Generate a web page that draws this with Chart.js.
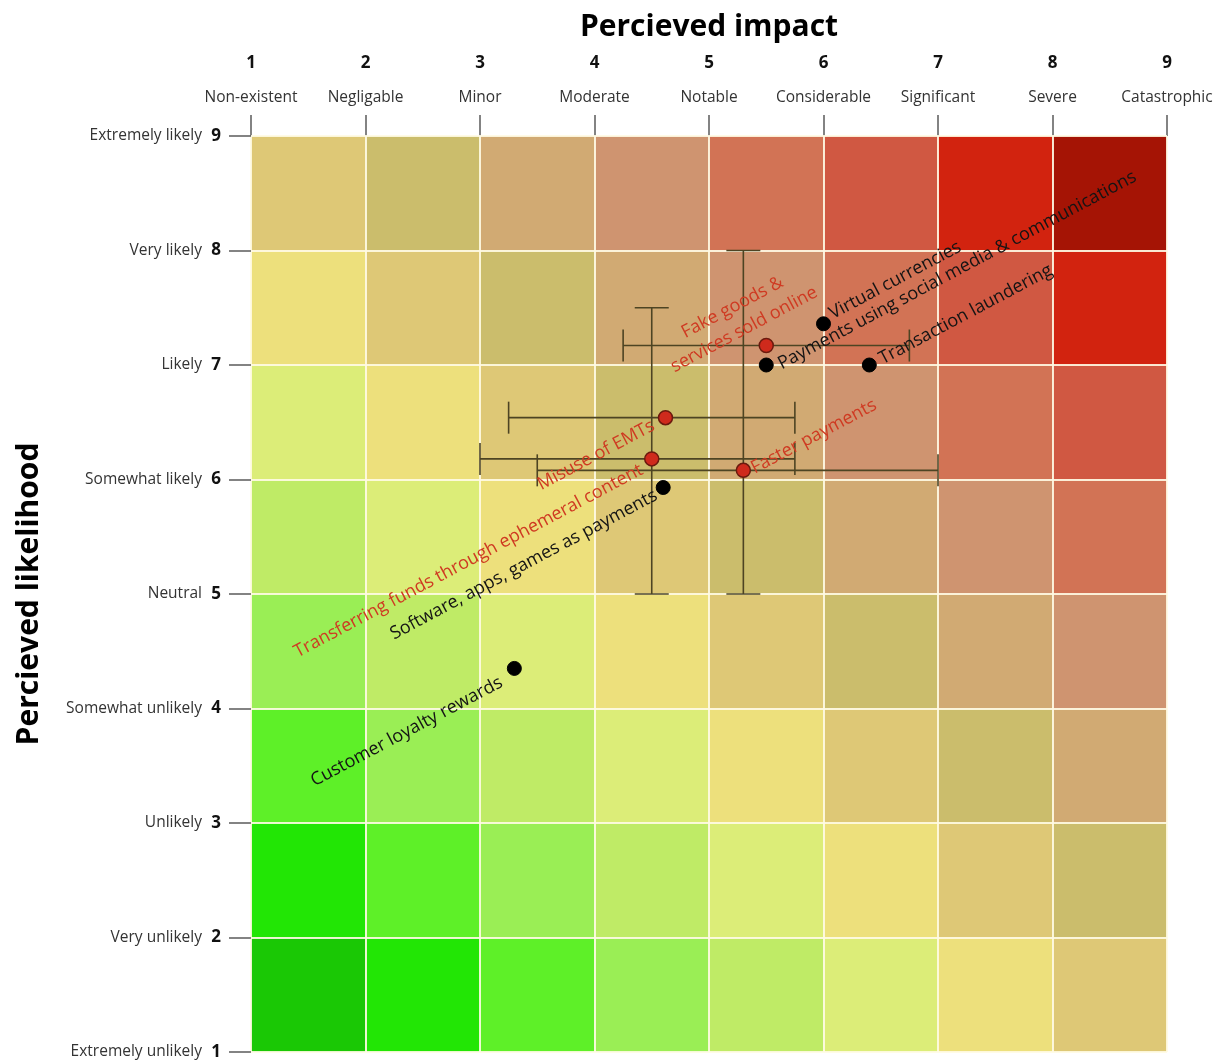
<!DOCTYPE html>
<html>
<head>
<meta charset="utf-8">
<title>Percieved impact vs. percieved likelihood</title>
<script src="https://cdn.jsdelivr.net/npm/chart.js@4.4.1/dist/chart.umd.min.js"></script>
<style>
  html, body { margin: 0; padding: 0; background: #ffffff; }
  #wrap { width: 1223px; height: 1063px; }
</style>
</head>
<body>
<div id="wrap"><canvas id="riskChart" width="1223" height="1063"></canvas></div>
<script>
// ---- Axis vocabulary ----
const impactNames = ['Non-existent', 'Negligable', 'Minor', 'Moderate', 'Notable',
  'Considerable', 'Significant', 'Severe', 'Catastrophic'];
const likelihoodNames = ['Extremely unlikely', 'Very unlikely', 'Unlikely', 'Somewhat unlikely',
  'Neutral', 'Somewhat likely', 'Likely', 'Very likely', 'Extremely likely'];

// ---- Threats scored as a single point (black) ----
const pointNames = ['Virtual currencies', 'Payments using social media & communications',
  'Transaction laundering', 'Software, apps, games as payments', 'Customer loyalty rewards'];
const pointImpact = [6.0, 5.5, 6.4, 4.6, 3.3];
const pointLikelihood = [7.36, 7.0, 7.0, 5.93, 4.35];

// ---- Threats scored with a spread of opinion (red, with ranges) ----
const rangeNames = [['Fake goods &', 'services sold online'], ['Misuse of EMTs'],
  ['Transferring funds through ephemeral content'], ['Faster payments']];
const rangeImpact = [5.5, 4.62, 4.5, 5.3];
const rangeLikelihood = [7.17, 6.54, 6.18, 6.08];
const rangeImpactLow = [4.25, 3.25, 3.0, 3.5];
const rangeImpactHigh = [6.75, 5.75, 5.75, 7.0];
const rangeLikelihoodLow = [null, null, 5.0, 5.0];
const rangeLikelihoodHigh = [null, null, 7.5, 8.0];

// ---- Styling ----
const FONT = "'Open Sans', 'Noto Sans', sans-serif";
Chart.defaults.font.family = FONT;

// risk colour by level (0 = safest corner, 14 = worst corner)
const heatPalette = ['#1ac805', '#22e605', '#5ef028', '#9aee55', '#bfeb66', '#dced78', '#ede07c',
  '#dec876', '#cbbd6c', '#d1aa73', '#cf9470', '#d27355', '#d05842', '#d2230f', '#a51405'];

// label placement relative to each marker (pixels), text runs along the diagonal
const LABEL_ANGLE = -28 * Math.PI / 180;
const LABEL_FONT_SIZE = 18;
const LABEL_LINE = 25;
const pointLabelStyle = [
  { dx: 7, dy: -9, align: 'left' },
  { dx: 13, dy: 0, align: 'left' },
  { dx: 11, dy: -5, align: 'left' },
  { dx: -7, dy: 7, align: 'right' },
  { dx: -13, dy: 13, align: 'right' }
];
const rangeLabelStyle = [
  { dx: -22, dy: -16, align: 'center' },
  { dx: -12, dy: 7, align: 'right' },
  { dx: -10, dy: 10, align: 'right' },
  { dx: 9, dy: -1, align: 'left' }
];

const heatCells = {
  id: 'heatCells',
  beforeDraw(chart) {
    const { ctx, scales: { x, y } } = chart;
    ctx.save();
    for (let i = 0; i < 8; i++) {
      for (let j = 0; j < 8; j++) {
        const left = x.getPixelForValue(1 + i);
        const right = x.getPixelForValue(2 + i);
        const top = y.getPixelForValue(2 + j);
        const bottom = y.getPixelForValue(1 + j);
        ctx.fillStyle = heatPalette[i + j];
        ctx.fillRect(left, top, right - left, bottom - top);
      }
    }
    ctx.restore();
  }
};

const errorBars = {
  id: 'errorBars',
  beforeDatasetsDraw(chart) {
    const { ctx, scales: { x, y } } = chart;
    const cap = 16;
    ctx.save();
    ctx.strokeStyle = '#4d4423';
    ctx.lineWidth = 1.6;
    const seg = (x0, y0, x1, y1) => { ctx.beginPath(); ctx.moveTo(x0, y0); ctx.lineTo(x1, y1); ctx.stroke(); };
    rangeImpact.forEach((v, k) => {
      const px = x.getPixelForValue(v);
      const py = y.getPixelForValue(rangeLikelihood[k]);
      const xa = x.getPixelForValue(rangeImpactLow[k]);
      const xb = x.getPixelForValue(rangeImpactHigh[k]);
      seg(xa, py, xb, py);
      seg(xa, py - cap, xa, py + cap);
      seg(xb, py - cap, xb, py + cap);
      if (rangeLikelihoodLow[k] !== null) {
        const ya = y.getPixelForValue(rangeLikelihoodLow[k]);
        const yb = y.getPixelForValue(rangeLikelihoodHigh[k]);
        seg(px, ya, px, yb);
        seg(px - cap - 1, ya, px + cap + 1, ya);
        seg(px - cap - 1, yb, px + cap + 1, yb);
      }
    });
    ctx.restore();
  }
};

const markerLabels = {
  id: 'markerLabels',
  afterDatasetsDraw(chart) {
    const { ctx, scales: { x, y } } = chart;
    ctx.save();
    ctx.font = LABEL_FONT_SIZE + 'px ' + FONT;
    ctx.textBaseline = 'middle';
    const put = (lines, vx, vy, st, color) => {
      const ax = x.getPixelForValue(vx) + st.dx;
      const ay = y.getPixelForValue(vy) + st.dy;
      ctx.save();
      ctx.translate(ax, ay);
      ctx.rotate(LABEL_ANGLE);
      ctx.textAlign = st.align;
      ctx.fillStyle = color;
      const n = lines.length;
      lines.forEach((t, i) => ctx.fillText(t, 0, (i - (n - 1)) * LABEL_LINE));
      ctx.restore();
    };
    pointNames.forEach((t, k) => put([t], pointImpact[k], pointLikelihood[k], pointLabelStyle[k], '#141414'));
    rangeNames.forEach((t, k) => put(t, rangeImpact[k], rangeLikelihood[k], rangeLabelStyle[k], '#cf3a22'));
    ctx.restore();
  }
};

const gridStyle = {
  color: 'rgba(255, 251, 228, 0.9)',
  lineWidth: 2,
  drawOnChartArea: true,
  drawTicks: true,
  tickColor: '#5a5a5a',
  tickWidth: 1.5
};

// vertical axes: keep the plot flush with the layout padding
const fixVertical = w => s => { s.width = w; s.paddingTop = 0; s.paddingBottom = 0; };

new Chart(document.getElementById('riskChart'), {
  type: 'scatter',
  data: {
    datasets: [
      {
        label: 'Spread',
        data: rangeImpact.map((v, k) => ({ x: v, y: rangeLikelihood[k] })),
        backgroundColor: '#cf2a1c',
        borderColor: '#6b1a0e',
        borderWidth: 1.5,
        pointRadius: 7
      },
      {
        label: 'Single',
        data: pointImpact.map((v, k) => ({ x: v, y: pointLikelihood[k] })),
        backgroundColor: '#000000',
        borderColor: '#000000',
        borderWidth: 1,
        pointRadius: 7
      }
    ]
  },
  options: {
    responsive: false,
    animation: false,
    events: [],
    layout: { padding: { left: 0, top: 0, right: 56, bottom: 11 } },
    plugins: { legend: { display: false }, tooltip: { enabled: false } },
    scales: {
      x: {
        type: 'linear', axis: 'x', position: 'top', min: 1, max: 9, weight: 0,
        ticks: {
          stepSize: 1, autoSkip: false, maxRotation: 0, minRotation: 0, padding: 8,
          color: '#333333', font: { size: 15.5 },
          callback: v => impactNames[v - 1]
        },
        grid: Object.assign({}, gridStyle, { tickLength: 21 }),
        border: { display: false },
        afterFit: s => { s.height = 48; }
      },
      xNum: {
        type: 'linear', axis: 'x', position: 'top', min: 1, max: 9, weight: 1,
        ticks: {
          stepSize: 1, autoSkip: false, maxRotation: 0, minRotation: 0, padding: 15,
          color: '#111111', font: { size: 17, weight: 'bold' },
          callback: v => String(v)
        },
        grid: { display: false, drawTicks: false },
        border: { display: false },
        title: {
          display: true, text: 'Percieved impact', color: '#000000',
          font: { size: 30, weight: 'bold' }, padding: { top: 9, bottom: 0 }
        },
        afterFit: s => { s.height = 88; }
      },
      y: {
        type: 'linear', axis: 'y', position: 'left', min: 1, max: 9, weight: 0,
        ticks: {
          stepSize: 1, autoSkip: false, padding: 8,
          color: '#111111', font: { size: 17, weight: 'bold' },
          callback: v => String(v)
        },
        grid: Object.assign({}, gridStyle, { tickLength: 22 }),
        border: { display: false },
        afterFit: fixVertical(40)
      },
      yName: {
        type: 'linear', axis: 'y', position: 'left', min: 1, max: 9, weight: 1,
        ticks: {
          stepSize: 1, autoSkip: false, padding: 9,
          color: '#333333', font: { size: 15.5 },
          callback: v => likelihoodNames[v - 1]
        },
        grid: { display: false, drawTicks: false },
        border: { display: false },
        title: {
          display: true, text: 'Percieved likelihood', color: '#000000',
          font: { size: 30, weight: 'bold' }, padding: { top: 11, bottom: 0 }
        },
        afterFit: fixVertical(211)
      }
    }
  },
  plugins: [heatCells, errorBars, markerLabels]
});
</script>
</body>
</html>
